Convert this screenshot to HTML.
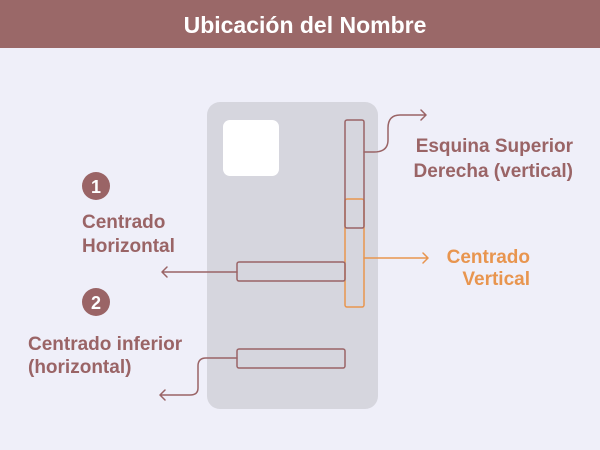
<!DOCTYPE html>
<html><head><style>
body{margin:0;width:600px;height:450px;background:#efeff9;font-family:"Liberation Sans",sans-serif;overflow:hidden}
</style></head><body>
<svg width="600" height="450" xmlns="http://www.w3.org/2000/svg" style="position:absolute;left:0;top:0">
<rect x="0" y="0" width="600" height="48" fill="#9a6868"/>
<text x="305" y="33" text-anchor="middle" fill="#fff" font-size="23" font-weight="bold" font-family="Liberation Sans, sans-serif">Ubicación del Nombre</text>
<rect x="207" y="102" width="171" height="307" rx="13" fill="#d6d6de"/>
<rect x="223" y="120" width="56" height="56" rx="7" fill="#fff"/>
<g fill="none" stroke-width="1.5" stroke-linecap="round" stroke-linejoin="round">
<rect x="345" y="199" width="19" height="108" rx="2" stroke="#e8954f"/>
<path d="M364 258 H428 M423 253 L428 258 L423 263" stroke="#e8954f"/>
<rect x="345" y="120" width="19" height="108" rx="2" stroke="#9a6466"/>
<rect x="237" y="262" width="108" height="19" rx="2" stroke="#9a6466"/>
<rect x="237" y="349" width="108" height="19" rx="2" stroke="#9a6466"/>
<path d="M364 152 H374 Q388 152 388 140 V128 Q388 115 400 115 H426 M421 110 L426 115 L421 120" stroke="#9a6466"/>
<path d="M237 272 H162 M167 267 L162 272 L167 277" stroke="#9a6466"/>
<path d="M237 358 H206 Q198 358 198 366 V388 Q198 395 190 395 H160 M165 390 L160 395 L165 400" stroke="#9a6466"/>
</g>
<g font-family="Liberation Sans, sans-serif" font-size="19" font-weight="bold">
<text x="573" y="152" text-anchor="end" fill="#9a6466">Esquina Superior</text>
<text x="573" y="177" text-anchor="end" fill="#9a6466">Derecha (vertical)</text>
<text x="530" y="263" text-anchor="end" fill="#e8954f">Centrado</text>
<text x="530" y="285" text-anchor="end" fill="#e8954f">Vertical</text>
<text x="82" y="228" fill="#9a6466">Centrado</text>
<text x="82" y="252" fill="#9a6466">Horizontal</text>
<text x="28" y="350" fill="#9a6466">Centrado inferior</text>
<text x="28" y="373" fill="#9a6466">(horizontal)</text>
</g>
<circle cx="96" cy="186" r="14" fill="#9a6466"/>
<text x="96" y="193" text-anchor="middle" fill="#fff" font-size="18" font-weight="bold">1</text>
<circle cx="96" cy="302" r="14" fill="#9a6466"/>
<text x="96" y="309" text-anchor="middle" fill="#fff" font-size="18" font-weight="bold">2</text>
</svg>
</body></html>
